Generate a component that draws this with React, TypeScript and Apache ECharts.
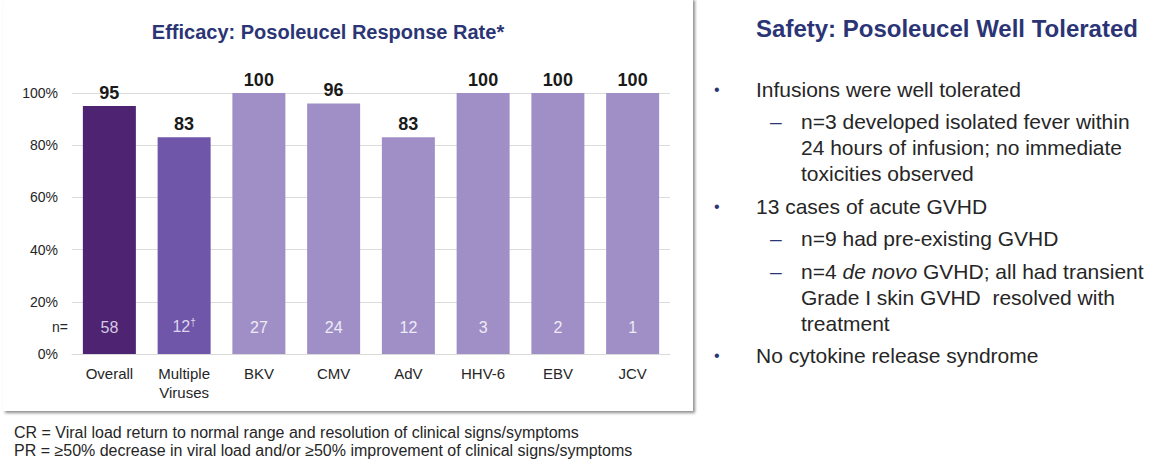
import React, { useEffect, useRef } from 'react';
import * as echarts from 'echarts';

const categories = ['Overall', 'Multiple\nViruses', 'BKV', 'CMV', 'AdV', 'HHV-6', 'EBV', 'JCV'];
const responseRates = [95, 83, 100, 96, 83, 100, 100, 100];
const nLabels = ['58', '12{sup|†}', '27', '24', '12', '3', '2', '1'];
const barColors = ['#4E2472', '#6F56A9', '#A08FC6', '#A08FC6', '#A08FC6', '#A08FC6', '#A08FC6', '#A08FC6'];
const nLabelColors = ['#D3C9E3', '#DDD5EE', '#EEEAF6', '#EEEAF6', '#EEEAF6', '#EEEAF6', '#EEEAF6', '#EEEAF6'];
const yMin = 0;
const yMax = 100;
const yStep = 20;

const chartTitle = 'Efficacy: Posoleucel Response Rate*';
const safetyTitle = 'Safety: Posoleucel Well Tolerated';
const safetyItems: { level: number; lines: string[] }[] = [
  { level: 1, lines: ['Infusions were well tolerated'] },
  { level: 2, lines: ['n=3 developed isolated fever within', '24 hours of infusion; no immediate', 'toxicities observed'] },
  { level: 1, lines: ['13 cases of acute GVHD'] },
  { level: 2, lines: ['n=9 had pre-existing GVHD'] },
  { level: 2, lines: ['n=4 {i|de novo} GVHD; all had transient', 'Grade I skin GVHD  resolved with', 'treatment'] },
  { level: 1, lines: ['No cytokine release syndrome'] },
];
const footnotes = [
  'CR = Viral load return to normal range and resolution of clinical signs/symptoms',
  'PR = \u226550% decrease in viral load and/or \u226550% improvement of clinical signs/symptoms',
];

const FONT = '"Liberation Sans", Arial, Helvetica, sans-serif';
const NAVY = '#2B3576';

export default function App() {
  const ref = useRef<HTMLDivElement>(null);
  useEffect(() => {
    if (!ref.current) return;
    const chart = echarts.init(ref.current, undefined, { renderer: 'svg' });

    const graphics: any[] = [];
    graphics.push({
      type: 'rect',
      z: -10,
      shape: { x: 3, y: -2, width: 690, height: 413 },
      style: { fill: '#ffffff', shadowColor: 'rgba(0,0,0,0.45)', shadowBlur: 3, shadowOffsetX: 2, shadowOffsetY: 2 },
      silent: true,
    });
    graphics.push({
      type: 'text',
      style: { text: 'n=', x: 68, y: 327, align: 'right', verticalAlign: 'middle', font: `14px ${FONT}`, fill: '#262626' },
    });
    graphics.push({
      type: 'text',
      style: { text: safetyTitle, x: 947, y: 28, align: 'center', verticalAlign: 'middle', font: `bold 24px ${FONT}`, fill: NAVY },
    });
    let y = 89;
    safetyItems.forEach((item, idx) => {
      if (idx > 0) y += 32.5;
      const textX = item.level === 1 ? 756 : 801;
      graphics.push({
        type: 'text',
        style: {
          text: item.level === 1 ? '\u2022' : '\u2013',
          x: item.level === 1 ? 714 : 770,
          y,
          align: 'left',
          verticalAlign: 'middle',
          font: `${item.level === 1 ? 16 : 21}px ${FONT}`,
          fill: NAVY,
        },
      });
      item.lines.forEach((line, li) => {
        if (li > 0) y += 26;
        graphics.push({
          type: 'text',
          style: {
            text: line,
            x: textX,
            y,
            align: 'left',
            verticalAlign: 'middle',
            font: `21px ${FONT}`,
            fill: '#262626',
            rich: { i: { fontStyle: 'italic', fontSize: 21, fontFamily: FONT, fill: '#262626' } },
          },
        });
      });
    });
    footnotes.forEach((t, i) => {
      graphics.push({
        type: 'text',
        style: { text: t, x: 14, y: 432 + i * 18, align: 'left', verticalAlign: 'middle', font: `16px ${FONT}`, fill: '#262626' },
      });
    });

    chart.setOption({
      animation: false,
      backgroundColor: '#ffffff',
      title: {
        text: chartTitle,
        left: 323,
        top: 17,
        textAlign: 'center',
        textStyle: { fontFamily: FONT, fontSize: 20, fontWeight: 'bold', color: NAVY },
      },
      grid: { left: 72, right: 490, top: 93, bottom: 112, containLabel: false },
      xAxis: {
        type: 'category',
        data: categories,
        axisLine: { show: true, lineStyle: { color: '#D9D9D9' } },
        axisTick: { show: false },
        axisLabel: { color: '#262626', fontFamily: FONT, fontSize: 15, margin: 10, lineHeight: 19, interval: 0 },
      },
      yAxis: {
        type: 'value',
        min: yMin,
        max: yMax,
        interval: yStep,
        axisLine: { show: false },
        axisTick: { show: false },
        splitLine: { lineStyle: { color: '#DCDCDC' } },
        axisLabel: { formatter: '{value}%', color: '#262626', fontFamily: FONT, fontSize: 14, margin: 14 },
      },
      series: [
        {
          type: 'bar',
          barWidth: 53,
          data: responseRates.map((v, i) => ({ value: v, itemStyle: { color: barColors[i] } })),
          label: {
            show: true,
            position: 'top',
            distance: 4,
            color: '#1a1a1a',
            fontFamily: FONT,
            fontWeight: 'bold',
            fontSize: 18,
          },
          z: 2,
        },
        {
          type: 'bar',
          barWidth: 53,
          barGap: '-100%',
          data: responseRates.map((v, i) => ({
            value: v,
            itemStyle: { color: 'rgba(0,0,0,0)' },
            label: { color: nLabelColors[i] },
          })),
          label: {
            show: true,
            position: 'insideBottom',
            distance: 19,
            fontFamily: FONT,
            fontSize: 16,
            formatter: (p: any) => nLabels[p.dataIndex],
            rich: { sup: { fontSize: 10, verticalAlign: 'top', padding: [0, 0, 8, 0], fontFamily: FONT } },
          },
          silent: true,
          z: 3,
        },
      ],
      graphic: graphics,
    });
    return () => chart.dispose();
  }, []);
  return <div ref={ref} style={{ position: 'fixed', left: 0, top: 0, width: 1160, height: 466 }} />;
}
